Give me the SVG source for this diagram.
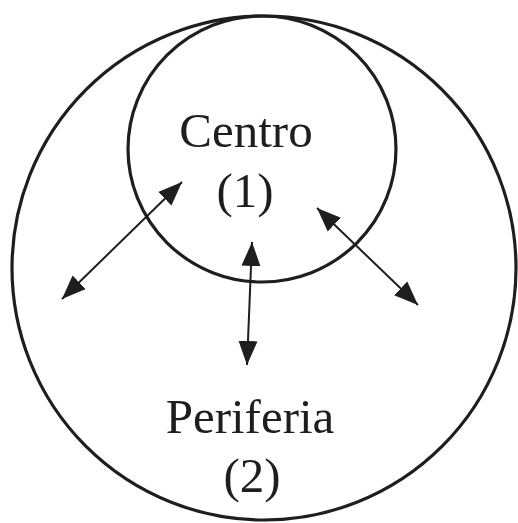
<svg xmlns="http://www.w3.org/2000/svg" width="518" height="523" viewBox="0 0 518 523">
<style>
.ring{fill:none;stroke:#1e1e1e;stroke-width:3.2}
.lbl{font-family:"Liberation Serif","DejaVu Serif",serif;font-size:49px;fill:#1e1e1e;text-anchor:middle}
.con{stroke:#1e1e1e;stroke-width:2;fill:none;marker-start:url(#ah);marker-end:url(#ah)}
</style>
<defs>
<marker id="ah" markerUnits="userSpaceOnUse" markerWidth="26" markerHeight="22" refX="24" refY="11" orient="auto-start-reverse" viewBox="0 0 26 22">
<path d="M0,1.5 L24,11 L0,20.5 Z" fill="#1e1e1e"/>
</marker>
</defs>
<rect width="518" height="523" fill="#fff"/>
<g id="periferia">
<ellipse class="ring" cx="264" cy="268" rx="252" ry="252"/>
<text class="lbl" x="250" y="433">Periferia</text>
<text class="lbl" x="252" y="492">(2)</text>
</g>
<g id="centro">
<ellipse class="ring" cx="262" cy="149" rx="134" ry="133"/>
<text class="lbl" x="246" y="147">Centro</text>
<text class="lbl" x="245" y="207">(1)</text>
</g>
<g id="connectors">
<line class="con" x1="62" y1="299" x2="182" y2="182"/>
<line class="con" x1="317" y1="208" x2="418" y2="305"/>
<line class="con" x1="252" y1="242" x2="247" y2="365"/>
</g>
</svg>
